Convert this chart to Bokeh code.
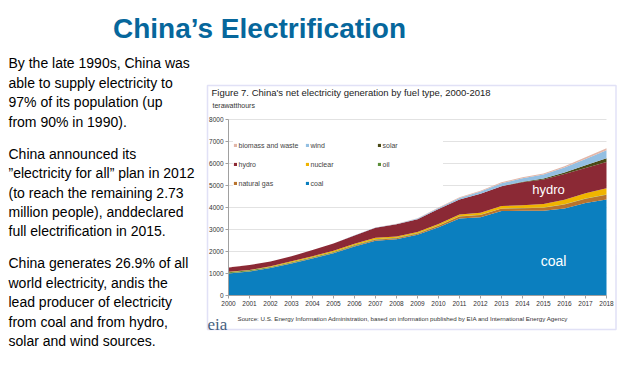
from bokeh.plotting import figure
from bokeh.models import (ColumnDataSource, Range1d, FixedTicker, Label, Legend,
                          LegendItem, BoxAnnotation, LinearAxis, Grid)
from bokeh.embed import file_html
from bokeh.resources import INLINE

years = list(range(2000, 2019))
coal = [1000, 1090, 1250, 1460, 1680, 1920, 2230, 2490, 2560, 2760, 3100, 3500, 3560, 3840, 3850, 3850, 3960, 4200, 4360]
natural_gas = [15, 15, 15, 15, 20, 22, 30, 40, 40, 50, 70, 90, 100, 110, 120, 140, 180, 200, 220]
oil = [45, 40, 35, 35, 40, 40, 40, 30, 20, 15, 12, 10, 8, 8, 8, 8, 10, 10, 10]
nuclear = [16, 17, 24, 42, 48, 50, 52, 60, 65, 66, 70, 83, 92, 105, 125, 160, 200, 240, 280]
hydro = [200, 220, 220, 230, 280, 330, 380, 460, 550, 580, 680, 680, 860, 900, 1050, 1120, 1170, 1150, 1200]
solar = [0, 0, 0, 0, 0, 0, 0, 0, 0, 0, 1, 3, 6, 8, 23, 40, 66, 117, 170]
wind = [1, 1, 1, 1, 1, 2, 4, 6, 13, 27, 45, 70, 96, 135, 150, 180, 230, 290, 360]
biomass = [2, 2, 2, 2, 2, 3, 4, 5, 10, 15, 25, 30, 35, 40, 45, 50, 60, 75, 90]

series_keys = ["coal", "natural_gas", "oil", "nuclear", "hydro", "solar", "wind", "biomass"]
series_names = ["coal", "natural gas", "oil", "nuclear", "hydro", "solar", "wind", "biomass and waste"]
series_colors = ["#0b7fbf", "#b8732e", "#5c8f3a", "#f0b400", "#8b2935", "#4a4a16", "#93bfe2", "#e2b6a8"]
legend_order = ["biomass and waste", "wind", "solar", "hydro", "nuclear", "oil", "natural gas", "coal"]
y_ticks = [0, 1000, 2000, 3000, 4000, 5000, 6000, 7000, 8000]

title_text = "China\u2019s Electrification"
paragraphs = [
    ["By the late 1990s, China was", "able to supply electricity to",
     "97% of its population (up", "from 90% in 1990)."],
    ["China announced its", "\u201delectricity for all\u201d plan in 2012",
     "(to reach the remaining 2.73", "million people), anddeclared",
     "full electrification in 2015."],
    ["China generates 26.9% of all", "world electricity, andis the",
     "lead producer of electricity", "from coal and from hydro,",
     "solar and wind sources."],
]
chart_title = "Figure 7. China's net electricity generation by fuel type, 2000-2018"
unit_text = "terawatthours"
source_text = ("Source: U.S. Energy Information Administration, based on information "
               "published by EIA and International Energy Agency")

source = ColumnDataSource(dict(year=years, coal=coal, natural_gas=natural_gas, oil=oil,
                               nuclear=nuclear, hydro=hydro, solar=solar, wind=wind,
                               biomass=biomass))

W, H = 624, 375
# chart plot area in page pixels
FL, FR, FT, FB = 228, 606, 119, 295
X0, X1 = years[0], years[-1]
Y0, Y1 = y_ticks[0], y_ticks[-1]
sx = (FR - FL) / (X1 - X0)
sy = (FB - FT) / (Y1 - Y0)

p = figure(width=W, height=H, output_backend="svg", toolbar_location=None,
           x_range=Range1d(0, W), y_range=Range1d(H, 0),
           x_axis_location=None, y_axis_location=None, min_border=0)
p.outline_line_color = None
p.background_fill_color = "white"
p.border_fill_color = "white"
p.extra_x_ranges = {"yr": Range1d(X0 - FL / sx, X0 + (W - FL) / sx)}
p.extra_y_ranges = {"twh": Range1d(Y0 - (H - FB) / sy, Y0 + FB / sy)}
for g in p.select(type=Grid):
    g.visible = False

# gridlines
grid_src = ColumnDataSource(dict(x0=[X0] * len(y_ticks), x1=[X1] * len(y_ticks),
                                 y=y_ticks))
p.segment(x0="x0", x1="x1", y0="y", y1="y", source=grid_src, line_color="#e2e2e2",
          line_width=1, x_range_name="yr", y_range_name="twh")

renderers = p.varea_stack(stackers=series_keys, x="year", source=source,
                          color=series_colors, x_range_name="yr", y_range_name="twh")

xax = LinearAxis(x_range_name="yr", y_range_name="twh", fixed_location=Y0,
                 ticker=FixedTicker(ticks=years), bounds=(X0, X1))
yax = LinearAxis(x_range_name="yr", y_range_name="twh", fixed_location=X0,
                 ticker=FixedTicker(ticks=y_ticks), bounds=(Y0, Y1))
for ax in (xax, yax):
    ax.axis_line_color = "#a0a0a0"
    ax.major_tick_line_color = "#a0a0a0"
    ax.minor_tick_line_color = None
    ax.major_tick_in = 0
    ax.major_tick_out = 3
    ax.major_label_text_font = "Liberation Sans"
    ax.major_label_text_font_size = "6.5px"
    ax.major_label_text_color = "#333333"
    ax.major_label_standoff = 2
p.add_layout(xax, "below")
p.add_layout(yax, "left")

name_to_r = {n: r for n, r in zip(series_names, renderers)}
legend = Legend(items=[LegendItem(label=n, renderers=[name_to_r[n]]) for n in legend_order],
                location=(232.5, 185.5), orientation="horizontal", ncols=3,
                glyph_width=4, glyph_height=4, label_standoff=2,
                label_text_font="Liberation Sans", label_text_font_size="7px",
                label_text_color="#444444", label_height=13, label_width=60,
                spacing=6, padding=3, margin=0,
                background_fill_color="white", background_fill_alpha=1.0,
                border_line_color=None)
p.add_layout(legend)


def page_label(X, Y, text, size, color="#000000", font="Liberation Sans",
               style="normal", align="left", baseline="middle"):
    p.add_layout(Label(x=X, y=Y, text=text, text_font=font, text_font_size=size,
                       text_color=color, text_font_style=style, text_align=align,
                       text_baseline=baseline))


# slide title
page_label(259, 28, title_text, "28px", color="#06679c",
           font="Liberation Sans", style="bold", align="center")

# left text
line_y = [[62.5, 82, 101.5, 121], [153, 172.5, 192, 211, 230.5], [262.5, 282, 301.5, 321, 340]]
for para, ys in zip(paragraphs, line_y):
    for line, y in zip(para, ys):
        page_label(8, y, line, "14px")

# chart box
p.add_layout(BoxAnnotation(left=207, right=615.5, top=85, bottom=329,
                           fill_alpha=0, line_color="#9a9ae0", line_width=1.5))

page_label(211, 92, chart_title, "9.5px", color="#222222")
page_label(212, 105, unit_text, "7px", color="#333333")
page_label(237, 318, source_text, "6.2px", color="#333333")
page_label(207, 324, "eia", "17px", color="#45607e", font="Liberation Serif",
           baseline="alphabetic")

# in-chart labels
p.add_layout(Label(x=2015.24, y=4820, text="hydro", text_color="white",
                   text_font="Liberation Sans", text_font_size="13px",
                   text_align="center", text_baseline="middle",
                   x_range_name="yr", y_range_name="twh"))
p.add_layout(Label(x=2015.48, y=1590, text="coal", text_color="white",
                   text_font="Liberation Sans", text_font_size="14px",
                   text_align="center", text_baseline="middle",
                   x_range_name="yr", y_range_name="twh"))

open("out.html", "w").write(file_html(p, INLINE))
